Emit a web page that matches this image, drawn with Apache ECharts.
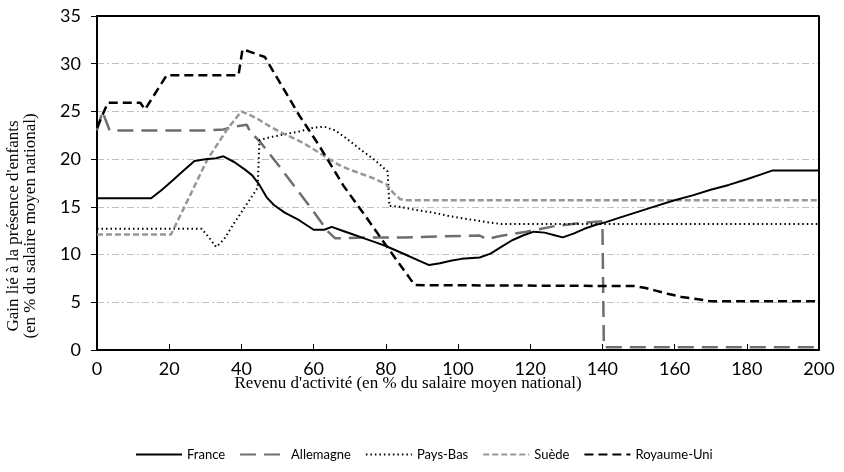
<!DOCTYPE html>
<html>
<head>
<meta charset="utf-8">
<script src="https://cdn.jsdelivr.net/npm/echarts@6/dist/echarts.min.js"></script>
<style>
  html, body { margin: 0; padding: 0; background: #fff; }
  #chart { width: 844px; height: 472px; }
</style>
</head>
<body>
<div id="chart"></div>
<script>
// Gain lié à la présence d'enfants selon le revenu d'activité, par pays
// Each series: [revenu d'activité (% salaire moyen), gain (% salaire moyen)]
var countries = ['France', 'Allemagne', 'Pays-Bas', 'Suède', 'Royaume-Uni'];

var france = [
  [0, 15.9], [15, 15.9], [18, 16.8], [21, 17.8], [24, 18.8], [27, 19.8], [30, 20.0],
  [33, 20.1], [35, 20.3], [38, 19.7], [41, 18.9], [43, 18.3], [45, 17.3], [47, 16.0],
  [49, 15.2], [52, 14.4], [54, 14.0], [56, 13.6], [58, 13.1], [60, 12.6], [63, 12.6],
  [65, 12.9], [68, 12.5], [71, 12.1], [74, 11.7], [77, 11.3], [80, 10.9], [83, 10.4],
  [86, 9.9], [89, 9.4], [92, 8.9], [95, 9.1], [98, 9.35], [101, 9.55], [104, 9.65],
  [106, 9.7], [109, 10.1], [112, 10.8], [115, 11.5], [118, 12.0], [121, 12.4],
  [124, 12.3], [127, 12.0], [129, 11.8], [132, 12.2], [135, 12.7], [138, 13.1],
  [141, 13.4], [145, 13.9], [150, 14.5], [155, 15.1], [160, 15.7], [165, 16.2],
  [170, 16.8], [175, 17.3], [180, 17.9], [184, 18.4], [187, 18.8], [200, 18.8]
];

var allemagne = [
  [0, 23.0], [1.5, 25.0], [3.5, 23.0], [30, 23.0], [35, 23.1], [38, 23.4], [41.5, 23.6],
  [42.5, 22.8], [45, 21.9], [50, 19.5], [55, 17.0], [60, 14.5], [64, 12.4], [66, 11.7],
  [75, 11.8], [85, 11.8], [95, 11.9], [106, 12.0], [108, 11.6], [111, 11.9], [119, 12.4],
  [127, 13.0], [134, 13.3], [140, 13.5], [140.4, 0.3], [200, 0.3]
];

var paysBas = [
  [0, 12.7], [29, 12.7], [31, 11.8], [33, 10.8], [35, 11.5], [38, 13.3], [41, 15.0],
  [44.5, 17.0], [45, 22.0], [48, 22.3], [52, 22.6], [56, 22.9], [60, 23.3], [63, 23.4],
  [66, 23.0], [69, 22.2], [73, 21.0], [77, 19.9], [80.5, 18.7], [81, 15.1], [84, 15.0],
  [88, 14.7], [93, 14.4], [98, 14.0], [103, 13.7], [108, 13.4], [112, 13.2], [200, 13.2]
];

var suede = [
  [0, 12.1], [20.5, 12.1], [25, 15.6], [30.5, 19.9], [36, 23.1], [40, 25.0], [43, 24.5],
  [45, 24.1], [48, 23.4], [52, 22.6], [55, 22.1], [58, 21.5], [61, 20.8], [64, 20.1],
  [67, 19.4], [70, 18.9], [73, 18.5], [76.5, 18.0], [80, 17.4], [82, 16.5], [84, 15.8],
  [86, 15.7], [200, 15.7]
];

var royaumeUni = [
  [0, 23.3], [3, 25.9], [12, 25.9], [13.3, 25.2], [19.3, 28.8], [39.2, 28.8],
  [40.3, 31.5], [42, 31.3], [46.5, 30.7], [56, 24.6], [61.4, 21.5], [68.3, 17.2],
  [74.8, 13.8], [80, 11.0], [88, 6.8], [88.5, 6.7], [149, 6.7], [152, 6.5], [155, 6.2],
  [158, 5.9], [162, 5.55], [167, 5.3], [170, 5.1], [200, 5.1]
];

// axis limits, also used for the top and right edges of the frame
var xMax = 200;
var yMax = 35;

var xTitle = "Revenu d'activité (en % du salaire moyen national)";
var yTitleLines = ["Gain lié à la présence d'enfants", "(en % du salaire moyen national)"];

var seriesData = [france, allemagne, paysBas, suede, royaumeUni];
var seriesStyles = [
  { color: '#000000', width: 2, type: 'solid' },
  { color: '#6e6e6e', width: 2.5, type: [16, 8] },
  { color: '#000000', width: 2, type: [1.5, 3] },
  { color: '#979797', width: 2.5, type: [6, 3] },
  { color: '#000000', width: 2.5, type: [9, 5] }
];

var chart = echarts.init(document.getElementById('chart'), null, { renderer: 'canvas' });

var series = countries.map(function (name, i) {
  return {
    name: name, type: 'line', data: seriesData[i],
    showSymbol: false, symbol: 'none', smooth: false, clip: false,
    lineStyle: seriesStyles[i], itemStyle: { color: seriesStyles[i].color },
    z: i === 0 ? 5 : 2
  };
});

// top and right edges of the plot frame at the axis maxima
series[0].markLine = {
  silent: true, symbol: ['none', 'none'], animation: false,
  label: { show: false },
  lineStyle: { color: '#000', type: 'solid', width: 2 },
  data: [{ yAxis: yMax }, { xAxis: xMax }]
};

chart.setOption({
  animation: false,
  backgroundColor: '#ffffff',
  grid: {
    left: 97, right: 25, top: 16, bottom: 122,
    show: true, borderColor: '#000', borderWidth: 1.5, backgroundColor: '#ffffff'
  },
  legend: {
    left: 130, top: 443,
    itemWidth: 46, itemHeight: 12, itemGap: 14,
    itemStyle: { opacity: 0 },
    textStyle: { fontFamily: 'Lato', fontSize: 13, color: '#000' },
    data: countries
  },
  xAxis: {
    type: 'value', min: 0, max: xMax, interval: 20,
    axisLine: { onZero: false, lineStyle: { color: '#000', width: 2 } },
    axisTick: { inside: true, length: 6, lineStyle: { color: '#000', width: 1 } },
    axisLabel: { margin: 10, fontFamily: 'Lato', fontSize: 18, color: '#000' },
    splitLine: { show: false }
  },
  yAxis: {
    type: 'value', min: 0, max: yMax, interval: 5,
    axisLine: { show: true, onZero: false, lineStyle: { color: '#000', width: 2 } },
    axisTick: { show: true, inside: false, length: 6, lineStyle: { color: '#000', width: 1 } },
    axisLabel: { margin: 16, fontFamily: 'Lato', fontSize: 18, color: '#000' },
    splitLine: {
      show: true, showMinLine: false, showMaxLine: false,
      lineStyle: { color: '#bfbfbf', width: 1, type: [7, 3, 2, 3] }
    }
  },
  graphic: [
    {
      type: 'text', x: 408, y: 384,
      style: {
        text: xTitle, font: '17px "Liberation Serif"', fill: '#000',
        align: 'center', verticalAlign: 'middle'
      }
    },
    {
      type: 'text', x: 22, y: 226, rotation: Math.PI / 2,
      style: {
        text: yTitleLines.join('\n'), font: '17px "Liberation Serif"', fill: '#000',
        align: 'center', verticalAlign: 'middle', lineHeight: 17
      }
    }
  ],
  series: series
});
</script>
</body>
</html>
